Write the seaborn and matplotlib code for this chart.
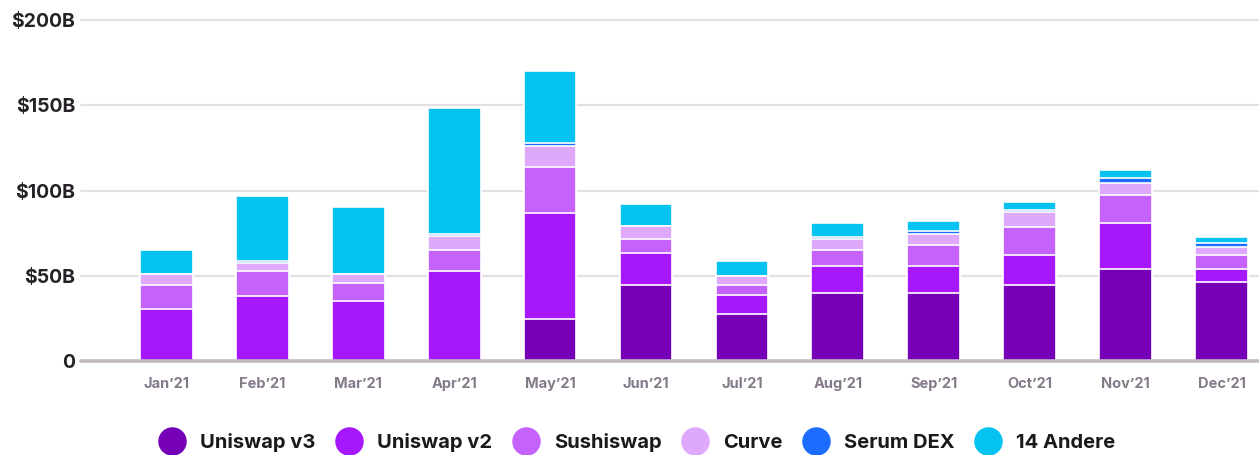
import numpy as np
import pandas as pd
import matplotlib
matplotlib.use("Agg")
import matplotlib.pyplot as plt
from matplotlib.lines import Line2D
import seaborn as sns

months = ["Jan’21", "Feb’21", "Mar’21", "Apr’21", "May’21", "Jun’21",
          "Jul’21", "Aug’21", "Sep’21", "Oct’21", "Nov’21", "Dec’21"]
series_names = ["Uniswap v3", "Uniswap v2", "Sushiswap", "Curve", "Serum DEX", "14 Andere"]
uniswap_v3 = [0, 0, 0, 0, 24.5, 44.7, 27.5, 39.8, 39.8, 44.7, 54.1, 46.1]
uniswap_v2 = [30.6, 38.4, 35.3, 52.5, 62.4, 18.8, 11.1, 15.7, 15.7, 17.2, 26.7, 8.0]
sushiswap = [14.1, 14.1, 10.6, 12.4, 26.8, 7.9, 6.1, 9.4, 12.7, 16.9, 16.8, 7.8]
curve = [6.3, 4.9, 5.1, 8.2, 12.6, 8.0, 4.9, 6.7, 6.5, 8.3, 6.9, 4.8]
serum_dex = [0, 1.4, 0, 1.3, 1.3, 0, 0, 1.3, 1.4, 1.3, 2.8, 2.7]
andere = [14.0, 37.7, 39.2, 73.7, 42.6, 12.4, 9.2, 7.9, 6.3, 4.9, 4.9, 3.3]
colors = ["#7600b8", "#a617fe", "#c462fb", "#dea8fd", "#1b6cff", "#05c3f0"]

y_ticks = [0, 50, 100, 150, 200]
y_tick_labels = ["0", "$50B", "$100B", "$150B", "$200B"]

sns.set_theme(style="white")
plt.rcParams["font.family"] = ["Inter", "DejaVu Sans"]

series = [uniswap_v3, uniswap_v2, sushiswap, curve, serum_dex, andere]
cum = np.cumsum(np.array(series, dtype=float), axis=0)

fig = plt.figure(figsize=(12.59, 4.55), dpi=100)
ax = fig.add_axes([81 / 1259, 1 - 361 / 455, 1 - 81 / 1259, (361 - 20) / 455])

for i in range(len(series) - 1, -1, -1):
    d = pd.DataFrame({"month": months, "value": cum[i]})
    sns.barplot(data=d, x="month", y="value", color=colors[i], width=0.55,
                edgecolor="white", linewidth=1.2, saturation=1, ax=ax, zorder=3)

ax.set_ylim(0, 200)
ax.set_xlim(-0.89, 11.39)
ax.set_yticks(y_ticks)
ax.set_yticklabels(y_tick_labels)
for y in y_ticks[1:]:
    ax.axhline(y, color="#e2e0e2", lw=1.5, zorder=1, clip_on=False)
ax.axhline(0, color="#c3bbc3", lw=2.6, zorder=4, clip_on=False)
for s in ax.spines.values():
    s.set_visible(False)
ax.set_xlabel("")
ax.set_ylabel("")
ax.tick_params(axis="y", length=0, pad=4, labelsize=14, labelcolor="#262228")
ax.tick_params(axis="x", length=0, pad=11.5, labelsize=10.5, labelcolor="#847a88")
for t in ax.get_yticklabels():
    t.set_fontweight("bold")
for t in ax.get_xticklabels():
    t.set_fontweight("bold")

handles = [Line2D([0], [0], marker="o", linestyle="", markersize=19.5,
                  markerfacecolor=c, markeredgecolor=c) for c in colors]
leg = fig.legend(handles, series_names, loc="center", ncol=6,
                 bbox_to_anchor=(0.506, 0.027), bbox_transform=fig.transFigure,
                 frameon=False, handletextpad=0.75, columnspacing=1.0,
                 prop={"size": 14.5, "weight": "bold"}, handlelength=1.3)
for t in leg.get_texts():
    t.set_color("#1a1a1a")

fig.savefig("out.png", dpi=100)
